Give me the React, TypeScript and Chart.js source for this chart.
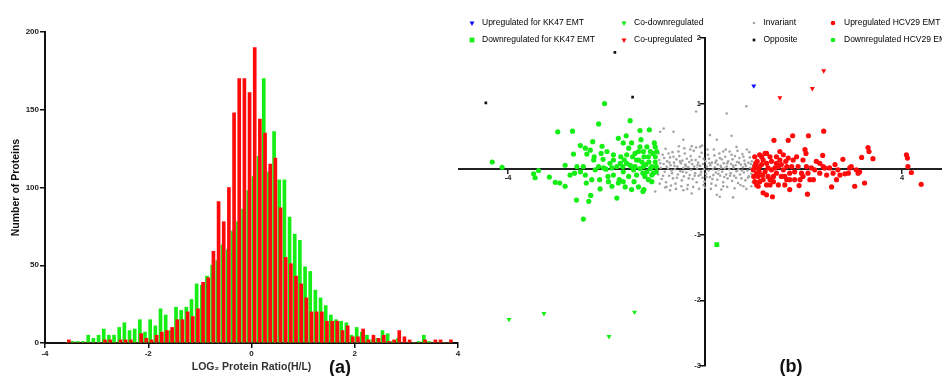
import React, { useEffect, useRef } from 'react';
import { Chart, registerables } from 'chart.js';

Chart.register(...registerables);

const FONT = "'Liberation Sans', Arial, Helvetica, sans-serif";
Chart.defaults.font.family = FONT;

// ---------- (a) histogram data ----------
const BIN_CENTERS = [
  -3.55, -3.45, -3.35, -3.25, -3.15, -3.05, -2.95, -2.85, -2.75, -2.65,
  -2.55, -2.45, -2.35, -2.25, -2.15, -2.05, -1.95, -1.85, -1.75, -1.65,
  -1.55, -1.45, -1.35, -1.25, -1.15, -1.05, -0.95, -0.85, -0.75, -0.65,
  -0.55, -0.45, -0.35, -0.25, -0.15, -0.05, 0.05, 0.15, 0.25, 0.35,
  0.45, 0.55, 0.65, 0.75, 0.85, 0.95, 1.05, 1.15, 1.25, 1.35,
  1.45, 1.55, 1.65, 1.75, 1.85, 1.95, 2.05, 2.15, 2.25, 2.35,
  2.45, 2.55, 2.65, 2.75, 2.85, 2.95, 3.05, 3.15, 3.25, 3.35,
  3.45, 3.55, 3.65, 3.75, 3.85,
];
const GREEN_COUNTS = [
  0, 1, 1, 1, 5, 3, 5, 9, 5, 5,
  10, 13, 8, 9, 15, 7, 15, 11, 22, 18,
  8, 23, 21, 23, 28, 38, 37, 43, 50, 53,
  63, 60, 72, 78, 86, 98, 107, 120, 170, 110,
  136, 105, 105, 81, 70, 66, 49, 46, 34, 29,
  24, 18, 15, 14, 13, 5, 10, 7, 5, 2,
  3, 8, 6, 1, 3, 0, 0, 0, 1, 5,
  1, 0, 0, 0, 0,
];
const RED_COUNTS = [
  2, 0, 0, 0, 0, 0, 0, 2, 2, 0,
  2, 2, 2, 0, 6, 3, 2, 5, 7, 8,
  10, 15, 15, 20, 17, 22, 39, 42, 59, 91,
  78, 100, 148, 170, 170, 161, 190, 144, 135, 115,
  119, 87, 55, 51, 43, 38, 29, 20, 20, 20,
  14, 14, 14, 8, 11, 4, 4, 9, 2, 5,
  3, 5, 1, 2, 8, 4, 2, 0, 0, 2,
  0, 2, 2, 0, 2,
];
const HIST_X_TICKS = [-4, -2, 0, 2, 4];
const HIST_Y_TICKS = [0, 50, 100, 150, 200];

// ---------- (b) scatter data ----------
const SCATTER_X_TICKS = [-4, 4];
const SCATTER_Y_TICKS = [-3, -2, -1, 1, 2];

const UP_KK47: [number, number][] = [[0.99, 1.27]];
const DOWN_KK47: [number, number][] = [[0.24, -1.15]];
const CO_DOWN: [number, number][] = [[-3.98, -2.29], [-3.27, -2.2], [-1.43, -2.18], [-1.95, -2.55]];
const CO_UP: [number, number][] = [[1.52, 1.09], [2.18, 1.23], [2.41, 1.5]];
const OPPOSITE: [number, number][] = [[-4.45, 1.01], [-1.83, 1.78], [-1.47, 1.1]];

const DOWN_HCV29: [number, number][] = [
  [-4.32, 0.11], [-4.12, 0.03], [-3.48, -0.07], [-3.45, -0.13], [-3.38, -0.02], [-3.16, -0.12], [-3.04, -0.2],
  [-2.95, -0.21], [-2.84, -0.26], [-2.99, 0.57], [-2.69, 0.58], [-2.84, 0.06], [-2.67, 0.23], [-2.65, -0.06],
  [-2.6, 0.04], [-2.53, 0.36], [-2.43, 0.32], [-2.4, 0.23], [-2.47, 0.04], [-2.43, -0.09], [-2.41, -0.21],
  [-2.61, -0.47], [-2.36, -0.49], [-2.32, -0.4], [-2.47, -0.76], [-2.28, 0.42], [-2.25, 0.19], [-2.16, 0.69],
  [-2.16, 0.04], [-2.14, -0.16], [-2.13, -0.3], [-2.11, 0.24], [-2.07, 0.15], [-2.04, 1.0], [-2.01, 0.0],
  [-1.97, -0.11], [-1.93, 0.09], [-1.89, -0.26], [-1.79, -0.44], [-1.76, 0.47], [-1.71, 0.19], [-1.74, -0.16],
  [-1.66, 0.4], [-1.64, 0.14], [-1.6, 0.51], [-1.59, 0.09], [-1.55, -0.11], [-1.52, 0.74], [-1.49, 0.4],
  [-1.47, 0.19], [-1.45, -0.01], [-1.44, -0.19], [-1.39, 0.14], [-1.35, 0.27], [-1.32, 0.59], [-1.3, 0.45],
  [-1.26, -0.34], [-1.25, 0.04], [-1.22, -0.11], [-1.18, 0.34], [-1.15, 0.19], [-1.13, 0.6], [-1.11, 0.01],
  [-1.08, -0.19], [-1.06, 0.24], [-1.03, 0.4], [-1.01, 0.11], [-0.99, -0.04], [-0.98, 0.27], [-1.24, -0.31],
  [-1.35, -0.27], [-1.49, -0.31], [-1.62, -0.27], [-1.86, -0.09], [-1.96, -0.19], [-2.06, 0.02], [-2.23, -0.01],
  [-2.3, -0.16], [-2.53, -0.04], [-2.74, -0.09], [-1.86, 0.14], [-1.79, 0.04], [-1.67, 0.04], [-1.52, 0.06],
  [-1.42, 0.04], [-1.32, 0.01], [-1.18, -0.04], [-1.08, 0.04], [-1.01, 0.19], [-1.86, 0.22], [-1.99, 0.27],
  [-2.09, 0.35], [-2.33, 0.29], [-2.26, 0.14], [-1.76, -0.21], [-1.59, 0.22], [-1.25, 0.27], [-1.35, 0.14],
  [-1.28, 0.11], [-1.2, 0.07], [-1.05, -0.06], [-1.15, -0.16], [-1.26, -0.06], [-1.39, -0.09], [-1.49, 0.04],
  [-1.66, -0.04], [-1.72, 0.09], [-1.11, 0.27], [-1.01, 0.34], [-1.32, 0.34], [-1.42, 0.24], [-1.55, 0.32],
  [-1.66, -0.19], [-1.89, 0.02], [-1.08, -0.09], [-0.99, 0.04], [-1.14, 0.11], [-1.24, 0.19],
];

const UP_HCV29: [number, number][] = [
  [1.22, 0.24], [1.4, 0.44], [1.69, 0.44], [1.78, 0.51], [2.1, 0.51], [2.41, 0.58], [2.03, 0.3], [2.05, 0.24],
  [2.39, 0.21], [2.8, 0.15], [3.18, 0.18], [3.31, 0.33], [3.33, 0.27], [3.41, 0.16], [4.09, 0.22], [4.11, 0.17],
  [4.12, 0.04], [4.19, -0.05], [4.39, -0.23], [3.24, -0.21], [3.04, -0.26], [2.94, 0.02], [3.07, -0.01],
  [3.11, -0.06], [2.67, -0.16], [2.57, -0.27], [2.84, -0.07], [2.7, -0.01], [2.53, 0.02], [2.4, 0.04],
  [2.26, 0.12], [2.2, -0.16], [2.13, -0.16], [2.08, -0.38], [1.91, -0.25], [1.82, -0.16], [1.72, -0.06],
  [1.66, 0.04], [1.59, 0.22], [1.52, 0.14], [1.45, -0.06], [1.39, -0.19], [1.37, -0.42], [1.25, -0.39],
  [1.18, -0.36], [1.08, -0.26], [1.01, -0.19], [1.05, -0.06], [1.11, 0.04], [1.03, 0.09], [1.15, 0.19],
  [1.25, 0.09], [1.32, 0.19], [1.35, -0.01], [1.45, 0.09], [1.55, -0.11], [1.62, -0.24], [1.72, -0.31],
  [1.79, 0.14], [1.89, 0.04], [1.96, -0.06], [2.06, 0.04], [2.16, 0.02], [2.33, -0.06], [2.47, -0.09],
  [1.99, 0.14], [1.86, 0.19], [1.69, 0.17], [1.62, -0.11], [1.49, -0.24], [1.28, -0.11], [1.18, -0.16],
  [1.08, 0.02], [1.01, 0.19], [1.11, 0.22], [1.22, -0.04], [1.32, -0.24], [1.42, 0.02], [1.52, 0.27],
  [1.93, -0.16], [2.33, 0.09], [2.64, 0.07], [2.91, -0.06], [1.08, -0.11], [1.15, 0.07], [0.98, -0.01],
  [1.05, -0.24], [1.25, 0.24], [1.45, 0.19], [1.59, -0.01], [1.76, 0.04], [1.99, -0.11], [2.09, -0.06],
  [2.23, -0.01], [2.43, 0.02], [2.74, -0.09], [2.97, 0.04], [3.14, -0.04], [2.6, -0.06], [1.11, -0.19],
  [1.39, -0.11], [1.66, -0.16], [0.99, -0.11], [1.06, 0.12], [1.17, -0.09], [1.28, 0.02], [1.35, 0.12],
  [1.49, 0.04], [1.18, 0.14], [1.32, -0.16], [1.01, 0.04], [1.1, -0.04], [1.25, -0.24], [1.55, 0.07],
  [1.64, 0.12], [1.72, -0.16], [1.82, -0.04],
];

const INVARIANT: [number, number][] = [
  [0.84, 0.96], [0.44, 0.85], [0.1, 0.52], [0.54, 0.51], [-0.18, 0.88], [-0.91, 0.57], [-0.84, 0.62],
  [-0.64, 0.57], [-0.44, 0.45], [-0.27, 0.35], [-0.1, 0.34], [0.24, 0.45], [0.64, 0.34], [0.37, 0.27],
  [-1.01, -0.34], [-0.78, -0.27], [-0.71, -0.32], [-0.44, -0.32], [-0.27, -0.37], [-0.03, -0.24],
  [0.24, -0.39], [0.3, -0.42], [0.57, -0.43], [0.37, -0.26], [0.78, -0.26],
  [-0.98, 0.05], [-0.95, -0.08], [-0.93, 0.14], [-0.9, 0.02], [-0.88, -0.15], [-0.86, 0.22], [-0.84, 0.08],
  [-0.82, -0.04], [-0.8, 0.31], [-0.79, -0.2], [-0.77, 0.12], [-0.75, 0.01], [-0.73, -0.1], [-0.71, 0.18],
  [-0.7, 0.06], [-0.68, -0.02], [-0.66, 0.26], [-0.65, -0.14], [-0.63, 0.1], [-0.61, 0.0], [-0.6, -0.22],
  [-0.58, 0.15], [-0.56, 0.04], [-0.55, -0.08], [-0.53, 0.35], [-0.52, 0.2], [-0.5, -0.03], [-0.49, 0.09],
  [-0.47, -0.17], [-0.46, 0.13], [-0.44, 0.02], [-0.43, -0.11], [-0.41, 0.24], [-0.4, 0.07], [-0.38, -0.05],
  [-0.37, 0.16], [-0.35, -0.24], [-0.34, 0.03], [-0.32, 0.11], [-0.31, -0.09], [-0.29, 0.2], [-0.28, -0.01],
  [-0.26, 0.08], [-0.25, -0.15], [-0.23, 0.28], [-0.22, 0.04], [-0.2, -0.06], [-0.19, 0.14], [-0.17, -0.2],
  [-0.16, 0.01], [-0.14, 0.1], [-0.13, -0.1], [-0.11, 0.19], [-0.1, 0.05], [-0.08, -0.04], [-0.07, 0.25],
  [-0.05, -0.13], [-0.04, 0.08], [-0.02, 0.0], [-0.01, -0.19], [0.01, 0.12], [0.02, -0.07], [0.04, 0.04],
  [0.05, 0.3], [0.07, -0.02], [0.08, 0.16], [0.1, -0.12], [0.11, 0.06], [0.13, -0.22], [0.14, 0.1],
  [0.16, 0.0], [0.17, -0.09], [0.19, 0.21], [0.2, 0.03], [0.22, -0.05], [0.23, 0.13], [0.25, -0.16],
  [0.26, 0.07], [0.28, -0.01], [0.29, 0.24], [0.31, -0.1], [0.32, 0.05], [0.34, 0.15], [0.35, -0.04],
  [0.37, -0.2], [0.38, 0.09], [0.4, 0.01], [0.41, 0.19], [0.43, -0.08], [0.44, 0.04], [0.46, -0.14],
  [0.47, 0.12], [0.49, 0.0], [0.5, 0.27], [0.52, -0.06], [0.53, 0.08], [0.55, -0.18], [0.56, 0.15],
  [0.58, 0.02], [0.59, -0.1], [0.61, 0.2], [0.62, 0.06], [0.64, -0.03], [0.65, 0.11], [0.67, -0.21],
  [0.68, 0.0], [0.7, 0.17], [0.71, -0.08], [0.73, 0.07], [0.74, -0.14], [0.76, 0.23], [0.77, 0.03],
  [0.79, -0.05], [0.8, 0.13], [0.82, -0.17], [0.83, 0.05], [0.85, 0.3], [0.86, -0.02], [0.88, 0.1],
  [0.89, -0.11], [0.91, 0.18], [0.92, 0.02], [0.94, -0.07], [0.95, 0.12], [0.97, -0.2], [0.98, 0.06],
  [-0.97, -0.02], [-0.91, 0.09], [-0.85, -0.1], [-0.78, 0.04], [-0.72, 0.1], [-0.67, -0.06], [-0.62, 0.05],
  [-0.57, -0.13], [-0.51, 0.12], [-0.45, -0.04], [-0.39, 0.05], [-0.33, -0.14], [-0.27, 0.14], [-0.21, -0.1],
  [-0.15, 0.06], [-0.09, -0.08], [-0.03, 0.16], [0.03, -0.12], [0.09, 0.09], [0.15, -0.15], [0.21, 0.1],
  [0.27, -0.07], [0.33, 0.02], [0.39, -0.12], [0.45, 0.09], [0.51, -0.1], [0.57, 0.05], [0.63, -0.13],
  [0.69, 0.1], [0.75, -0.02], [0.81, 0.08], [0.87, -0.13], [0.93, 0.08], [0.96, -0.03],
  [-0.94, 0.24], [-0.83, 0.17], [-0.74, 0.24], [-0.64, 0.19], [-0.54, 0.27], [-0.42, 0.32], [-0.3, 0.3],
  [-0.18, 0.33], [-0.06, 0.36], [0.06, 0.22], [0.18, 0.3], [0.3, 0.17], [0.42, 0.3], [0.54, 0.22],
  [0.66, 0.28], [0.78, 0.19], [0.9, 0.26],
  [-0.92, -0.22], [-0.81, -0.28], [-0.69, -0.25], [-0.59, -0.3], [-0.48, -0.26], [-0.36, -0.3], [-0.24, -0.27],
  [-0.12, -0.3], [0.0, -0.28], [0.12, -0.3], [0.22, -0.25], [0.33, -0.31], [0.45, -0.27], [0.6, -0.29],
  [0.72, -0.24], [0.84, -0.3], [0.94, -0.26],
];

const LEGEND_ORDER = [
  'Upregulated for KK47 EMT',
  'Downregulated for KK47 EMT',
  'Co-downregulated',
  'Co-upregulated',
  'Invariant',
  'Opposite',
  'Upregulated HCV29 EMT',
  'Downregulated HCV29 EMT',
];

const GREEN = '#14ee14';
const RED = '#ff0a0a';
const BAR_SHIFT = 0.0125;

function drawMarker(ctx: CanvasRenderingContext2D, style: string, rot: number, r: number, x: number, y: number, color: string) {
  ctx.save();
  ctx.fillStyle = color;
  ctx.beginPath();
  if (style === 'rect') {
    const s = r * Math.SQRT1_2;
    ctx.rect(x - s, y - s, 2 * s, 2 * s);
  } else if (style === 'triangle') {
    const dir = rot === 180 ? -1 : 1;
    ctx.moveTo(x - r * 0.866, y + dir * r * 0.5);
    ctx.lineTo(x + r * 0.866, y + dir * r * 0.5);
    ctx.lineTo(x, y - dir * r);
    ctx.closePath();
  } else {
    ctx.arc(x, y, r, 0, Math.PI * 2);
  }
  ctx.fill();
  ctx.restore();
}

const legendGridPlugin = {
  id: 'legendGrid',
  afterDraw(chart: any, _args: any, opts: any) {
    const ctx: CanvasRenderingContext2D = chart.ctx;
    ctx.save();
    ctx.font = opts.font;
    ctx.textBaseline = 'middle';
    ctx.textAlign = 'left';
    LEGEND_ORDER.forEach((label, i) => {
      const ds = chart.data.datasets.find((d: any) => d.label === label);
      if (!ds) return;
      const col = Math.floor(i / 2);
      const row = i % 2;
      const mx = opts.markerX[col];
      const my = opts.rowY[row];
      drawMarker(ctx, ds.pointStyle, ds.pointRotation || 0, ds.legendRadius ?? ds.pointRadius, mx, my, ds.backgroundColor);
      ctx.fillStyle = opts.color;
      ctx.fillText(label, mx + opts.textGap[col], my);
    });
    ctx.restore();
  },
};

const toPts = (arr: [number, number][]) => arr.map(([x, y]) => ({ x, y }));

export default function App() {
  const leftRef = useRef<HTMLCanvasElement>(null);
  const rightRef = useRef<HTMLCanvasElement>(null);

  useEffect(() => {
    const tickFont = { size: 8, weight: 'bold' as const, family: FONT };
    const hist = new Chart(leftRef.current!, {
      type: 'bar',
      data: {
        datasets: [
          {
            label: 'KK47',
            data: BIN_CENTERS.map((x, i) => ({ x, y: GREEN_COUNTS[i] })),
            xAxisID: 'xg',
            backgroundColor: GREEN,
            borderWidth: 0,
            barThickness: 3,
            grouped: false,
            order: 1,
          } as any,
          {
            label: 'HCV29',
            data: BIN_CENTERS.map((x, i) => ({ x, y: RED_COUNTS[i] })),
            xAxisID: 'xr',
            backgroundColor: RED,
            borderWidth: 0,
            barThickness: 3,
            grouped: false,
            order: 0,
          } as any,
        ],
      },
      options: {
        responsive: false,
        animation: false,
        events: [],
        layout: { padding: { left: 0, right: 12, top: 32, bottom: 0 } },
        plugins: { legend: { display: false }, tooltip: { enabled: false } },
        scales: {
          x: {
            type: 'linear',
            min: -4,
            max: 4,
            offset: false,
            afterBuildTicks: (s: any) => { s.ticks = HIST_X_TICKS.map((v) => ({ value: v })); },
            afterFit: (s: any) => { s.height = 33; },
            ticks: { font: tickFont, color: '#222', padding: 1, maxRotation: 0, autoSkip: false },
            grid: { offset: false, drawOnChartArea: false, drawTicks: true, tickLength: 5, color: '#111', lineWidth: 1.5 },
            border: { display: true, color: '#111', width: 2 },
            title: {
              display: true,
              text: 'LOG₂ Protein Ratio(H/L)',
              font: { size: 10.5, weight: 'bold', family: FONT },
              color: '#333',
              padding: { top: 0, bottom: 3 },
            },
          },
          xg: { type: 'linear', display: false, min: -4 + BAR_SHIFT, max: 4 + BAR_SHIFT, offset: false },
          xr: { type: 'linear', display: false, min: -4 - BAR_SHIFT, max: 4 - BAR_SHIFT, offset: false },
          y: {
            type: 'linear',
            min: 0,
            max: 200,
            afterBuildTicks: (s: any) => { s.ticks = HIST_Y_TICKS.map((v) => ({ value: v })); },
            afterFit: (s: any) => { s.width = 45; },
            ticks: { font: tickFont, color: '#222', padding: 1 },
            grid: { drawOnChartArea: false, drawTicks: true, tickLength: 5, color: '#111', lineWidth: 1.5 },
            border: { display: true, color: '#111', width: 2 },
            title: {
              display: true,
              text: 'Number of Proteins',
              font: { size: 10.5, weight: 'bold', family: FONT },
              color: '#111',
              padding: { top: 10, bottom: 0 },
            },
          },
        },
      } as any,
    });

    const sTickFont = { size: 7.5, weight: 'bold' as const, family: FONT };
    const scatter = new Chart(rightRef.current!, {
      type: 'scatter',
      data: {
        datasets: [
          { label: 'Upregulated for KK47 EMT', data: toPts(UP_KK47), pointStyle: 'triangle', pointRotation: 180, pointRadius: 2.9, backgroundColor: '#1010ff', borderWidth: 0, order: 0 },
          { label: 'Downregulated for KK47 EMT', data: toPts(DOWN_KK47), pointStyle: 'rect', pointRadius: 3.4, backgroundColor: GREEN, borderWidth: 0, order: 0 },
          { label: 'Co-downregulated', data: toPts(CO_DOWN), pointStyle: 'triangle', pointRotation: 180, pointRadius: 2.9, backgroundColor: GREEN, borderWidth: 0, order: 0 },
          { label: 'Co-upregulated', data: toPts(CO_UP), pointStyle: 'triangle', pointRotation: 180, pointRadius: 2.9, backgroundColor: RED, borderWidth: 0, order: 0 },
          { label: 'Invariant', data: toPts(INVARIANT), pointStyle: 'circle', pointRadius: 1.3, backgroundColor: '#a4a4a4', borderWidth: 0, order: 2 },
          { label: 'Opposite', data: toPts(OPPOSITE), pointStyle: 'rect', pointRadius: 1.9, backgroundColor: '#111', borderWidth: 0, order: 0 },
          { label: 'Upregulated HCV29 EMT', data: toPts(UP_HCV29), pointStyle: 'circle', pointRadius: 2.6, legendRadius: 2.3, backgroundColor: RED, borderWidth: 0, order: 1 },
          { label: 'Downregulated HCV29 EMT', data: toPts(DOWN_HCV29), pointStyle: 'circle', pointRadius: 2.6, legendRadius: 2.3, backgroundColor: GREEN, borderWidth: 0, order: 1 },
        ] as any,
      },
      options: {
        responsive: false,
        animation: false,
        events: [],
        layout: { padding: { left: 8.75, right: 8.75, top: 38, bottom: 10 } },
        plugins: {
          legend: { display: false },
          tooltip: { enabled: false },
          legendGrid: {
            markerX: [22, 174, 304, 383],
            textGap: [10, 10, 9.5, 11],
            rowY: [23, 40],
            font: `8.5px ${FONT}`,
            color: '#000',
          },
        },
        scales: {
          x: {
            type: 'linear',
            min: -5,
            max: 5,
            position: { y: 0 },
            afterBuildTicks: (s: any) => { s.ticks = SCATTER_X_TICKS.map((v) => ({ value: v })); },
            afterFit: (s: any) => { s.height = 0; },
            ticks: { font: sTickFont, color: '#222', padding: 0, maxRotation: 0, autoSkip: false },
            grid: { drawOnChartArea: false, drawTicks: true, tickLength: 4, color: '#222', lineWidth: 1.5 },
            border: { display: true, color: '#222', width: 2 },
          },
          y: {
            type: 'linear',
            min: -3,
            max: 2,
            position: { x: 0 },
            afterBuildTicks: (s: any) => { s.ticks = SCATTER_Y_TICKS.map((v) => ({ value: v })); },
            afterFit: (s: any) => { s.width = 0; },
            ticks: { font: sTickFont, color: '#222', padding: 0, autoSkip: false, callback: (v: any) => `${v}  ` },
            grid: { drawOnChartArea: false, drawTicks: true, tickLength: 4, color: '#111', lineWidth: 1.5 },
            border: { display: true, color: '#111', width: 2 },
          },
        },
      } as any,
      plugins: [legendGridPlugin as any],
    });

    return () => {
      hist.destroy();
      scatter.destroy();
    };
  }, []);

  const panelLabel: React.CSSProperties = {
    position: 'absolute',
    width: 60,
    textAlign: 'center',
    font: `bold 18px ${FONT}`,
    lineHeight: '18px',
    color: '#111',
  };

  return (
    <div style={{ position: 'absolute', left: 0, top: 0, width: 942, height: 376, overflow: 'hidden', background: '#fff' }}>
      <canvas ref={leftRef} width={470} height={376} style={{ position: 'absolute', left: 0, top: 0, width: 470, height: 376 }} />
      <canvas ref={rightRef} width={510} height={376} style={{ position: 'absolute', left: 450, top: 0, width: 510, height: 376 }} />
      <div style={{ ...panelLabel, left: 310, top: 358 }}>(a)</div>
      <div style={{ ...panelLabel, left: 761, top: 357 }}>(b)</div>
    </div>
  );
}
